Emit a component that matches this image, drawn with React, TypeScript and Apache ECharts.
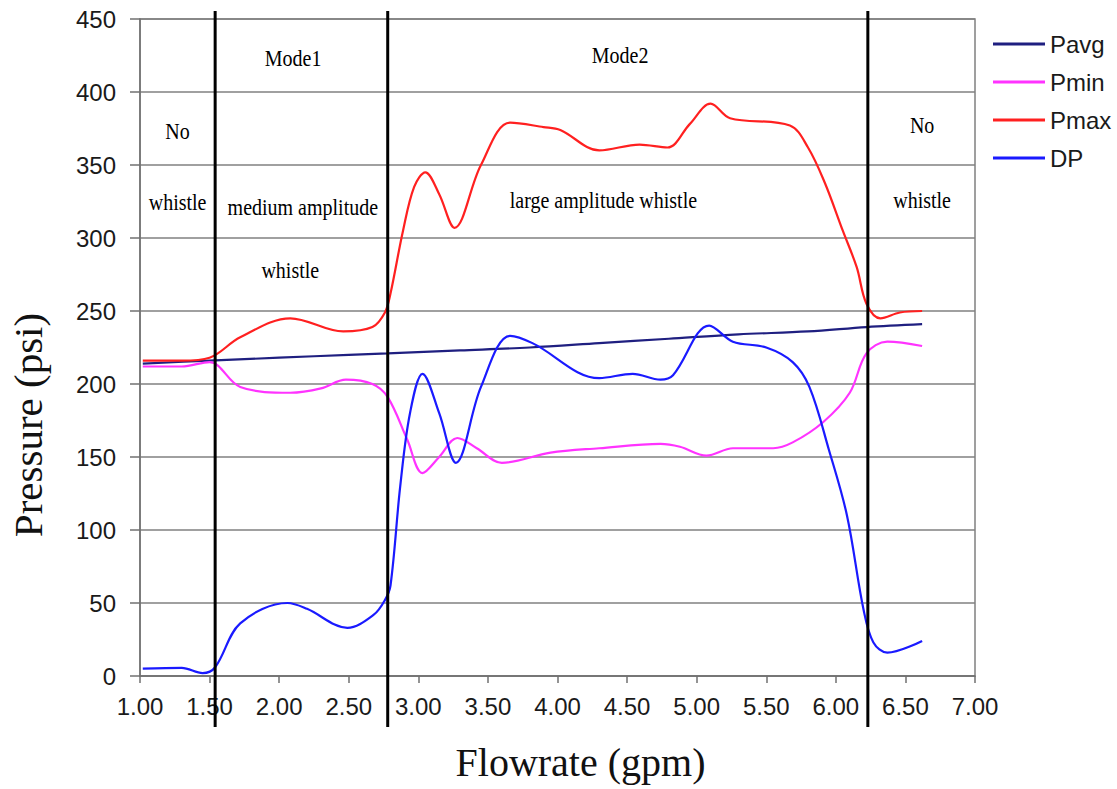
import React, { useEffect, useRef } from "react";
import * as echarts from "echarts";

const xTicksMin = 1;
const xTicksMax = 7;
const yTicksMin = 0;
const yTicksMax = 450;

const seriesNames = ["Pavg", "Pmin", "Pmax", "DP"];
const seriesColors = ["#1f1f80", "#ff33ff", "#ff2020", "#1a1aff"];

const pavgX = [1.02, 1.5, 2.0, 2.5, 2.78, 3.3, 3.8, 4.3, 4.8, 5.3, 5.8, 6.22, 6.62];
const pavgY = [214, 216, 218, 220, 221, 223, 225, 228, 231, 234, 236, 239, 241];

const pminX = [1.02, 1.3, 1.5, 1.72, 2.08, 2.3, 2.48, 2.67, 2.78, 2.92, 3.03, 3.15, 3.28, 3.42, 3.6, 3.95, 4.3, 4.74, 4.88, 5.07, 5.26, 5.55, 5.69, 5.91, 6.1, 6.22, 6.37, 6.62];
const pminY = [212, 212, 215, 198, 194, 197, 203, 200, 191, 162, 139, 150, 163, 156, 146, 153, 156, 159, 157, 151, 156, 156, 160, 174, 194, 221, 229, 226];

const pmaxX = [1.02, 1.3, 1.5, 1.72, 2.08, 2.46, 2.67, 2.76, 2.8, 2.89, 2.97, 3.05, 3.15, 3.26, 3.45, 3.66, 3.9, 4.02, 4.3, 4.59, 4.79, 4.95, 5.1, 5.24, 5.67, 5.8, 5.92, 6.05, 6.15, 6.22, 6.32, 6.46, 6.62];
const pmaxY = [216, 216, 218, 232, 245, 236, 239, 249, 262, 305, 335, 345, 330, 307, 350, 379, 376, 374, 360, 364, 362, 378, 392, 382, 377, 362, 338, 305, 280, 255, 245, 249, 250];

const dpX = [1.02, 1.3, 1.45, 1.54, 1.72, 2.06, 2.2, 2.49, 2.68, 2.76, 2.8, 2.87, 2.94, 3.03, 3.15, 3.27, 3.45, 3.66, 3.82, 4.3, 4.54, 4.74, 4.83, 5.09, 5.26, 5.5, 5.69, 5.81, 5.95, 6.08, 6.2, 6.27, 6.37, 6.62];
const dpY = [5, 5.5, 2, 6, 36, 50, 46, 33, 42, 52, 62, 130, 180, 207, 180, 146, 198, 233, 228, 204, 207, 203, 206, 240, 229, 225, 215, 198, 155, 110, 45, 23, 16, 24];

const regionBounds = [1.54, 2.78, 6.23];

const annotationTexts = ["Mode1", "No", "whistle", "medium amplitude", "whistle", "Mode2", "large amplitude whistle", "No", "whistle"];
const annotationX = [2.1, 1.27, 1.27, 2.17, 2.08, 4.45, 4.33, 6.62, 6.62];
const annotationY = [423, 373, 324, 321, 278, 425, 326, 377, 326];

const seriesXs = [pavgX, pminX, pmaxX, dpX];
const seriesYs = [pavgY, pminY, pmaxY, dpY];

export default function App() {
  const ref = useRef<HTMLDivElement>(null);
  useEffect(() => {
    if (!ref.current) return;
    const chart = echarts.init(ref.current, undefined, { renderer: "svg" });
    const option: any = {
      animation: false,
      backgroundColor: "#ffffff",
      grid: {
        left: 140,
        top: 19,
        right: 142,
        bottom: 113,
        show: true,
        borderColor: "#808080",
        borderWidth: 1.5,
      },
      legend: {
        orient: "vertical",
        left: 988,
        top: 27,
        icon: "rect",
        itemWidth: 52,
        itemHeight: 3,
        itemGap: 14,
        data: seriesNames,
        textStyle: {
          fontFamily: "Liberation Sans",
          fontSize: 24,
          lineHeight: 24,
          color: "#1a1a1a",
        },
      },
      xAxis: {
        type: "value",
        min: xTicksMin,
        max: xTicksMax,
        interval: 0.5,
        axisLine: { show: true, lineStyle: { color: "#707070", width: 1.5 } },
        axisTick: { show: true, length: 7, lineStyle: { color: "#707070", width: 1.5 } },
        splitLine: { show: false },
        axisLabel: {
          formatter: (v: number) => v.toFixed(2),
          fontFamily: "Liberation Sans",
          fontSize: 24,
          color: "#1a1a1a",
          margin: 18,
        },
        name: "Flowrate (gpm)",
        nameLocation: "middle",
        nameGap: 66,
        nameTextStyle: {
          fontFamily: "Liberation Serif",
          fontSize: 40,
          color: "#111111",
          padding: [0, 0, 0, 46],
        },
      },
      yAxis: {
        type: "value",
        min: yTicksMin,
        max: yTicksMax,
        interval: 50,
        axisLine: { show: true, lineStyle: { color: "#707070", width: 1.5 } },
        axisTick: { show: true, length: 10, lineStyle: { color: "#707070", width: 1.5 } },
        splitLine: { show: true, lineStyle: { color: "#808080", width: 1.5 } },
        axisLabel: {
          fontFamily: "Liberation Sans",
          fontSize: 24,
          color: "#1a1a1a",
          margin: 24,
        },
      },
      series: seriesNames.map((name, i) => ({
        name,
        type: "line",
        data: seriesXs[i].map((x, j) => [x, seriesYs[i][j]]),
        smooth: 0.35,
        symbol: "none",
        lineStyle: { color: seriesColors[i], width: 2.2 },
        itemStyle: { color: seriesColors[i] },
        z: 3,
      })),
    };
    chart.setOption(option);

    const topPx = chart.convertToPixel({ yAxisIndex: 0 }, yTicksMax) as number;
    const botPx = chart.convertToPixel({ yAxisIndex: 0 }, yTicksMin) as number;
    const graphics: any[] = [];
    regionBounds.forEach((v) => {
      const px = chart.convertToPixel({ xAxisIndex: 0 }, v) as number;
      graphics.push({
        type: "line",
        shape: { x1: px, y1: topPx - 8, x2: px, y2: botPx + 51 },
        style: { stroke: "#000000", lineWidth: 3 },
        z: 10,
      });
    });
    annotationTexts.forEach((t, i) => {
      const p = chart.convertToPixel({ gridIndex: 0 }, [annotationX[i], annotationY[i]]) as number[];
      graphics.push({
        type: "text",
        x: p[0],
        y: p[1],
        scaleY: 1.15,
        style: {
          text: t,
          font: "20px 'Liberation Serif'",
          fill: "#000000",
          align: "center",
          verticalAlign: "middle",
        },
        z: 10,
      });
    });
    graphics.push({
      type: "text",
      x: 28,
      y: 425,
      rotation: Math.PI / 2,
      style: {
        text: "Pressure (psi)",
        font: "41px 'Liberation Serif'",
        fill: "#111111",
        align: "center",
        verticalAlign: "middle",
      },
      z: 10,
    });
    chart.setOption({ graphic: graphics });

    return () => chart.dispose();
  }, []);
  return (
    <div
      ref={ref}
      style={{ position: "fixed", left: 0, top: 0, width: 1117, height: 789 }}
    />
  );
}
